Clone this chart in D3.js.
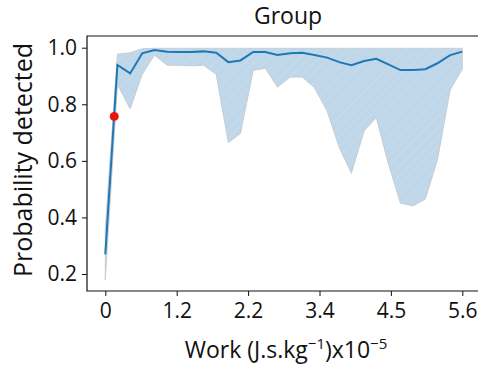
<!DOCTYPE html>
<html>
<head>
<meta charset="utf-8">
<script src="https://cdn.jsdelivr.net/npm/d3@7"></script>
<style>
  html, body { margin: 0; padding: 0; background: #fff; }
  svg { display: block; }
  text { font-family: "Open Sans", "Noto Sans", sans-serif; fill: #111; }
</style>
</head>
<body>
<svg id="chart" width="478" height="366"></svg>
<script>
// Work sampled along the x axis (J.s.kg^-1, x10^-5)
const work = [0.00, 0.19, 0.39, 0.58, 0.77, 0.97, 1.16, 1.35, 1.54, 1.74,
              1.93, 2.12, 2.32, 2.51, 2.70, 2.90, 3.09, 3.28, 3.48, 3.67,
              3.86, 4.06, 4.25, 4.44, 4.63, 4.83, 5.02, 5.21, 5.41, 5.60];
// Mean probability of detection
const meanProb = [0.270, 0.939, 0.909, 0.980, 0.992, 0.986, 0.985, 0.985, 0.987, 0.982,
                  0.949, 0.955, 0.985, 0.985, 0.974, 0.980, 0.982, 0.974, 0.965, 0.949,
                  0.938, 0.953, 0.961, 0.941, 0.921, 0.921, 0.924, 0.945, 0.974, 0.986];
// Lower and upper bounds of the shaded range
const lowerProb = [0.180, 0.870, 0.784, 0.906, 0.974, 0.938, 0.938, 0.936, 0.938, 0.906,
                   0.664, 0.697, 0.920, 0.927, 0.861, 0.896, 0.896, 0.859, 0.776, 0.647,
                   0.556, 0.706, 0.753, 0.590, 0.450, 0.441, 0.465, 0.603, 0.851, 0.924];
const upperProb = [0.360, 0.977, 0.982, 0.996, 0.998, 0.998, 0.998, 0.998, 0.998, 0.998,
                   0.998, 0.998, 0.998, 0.998, 0.998, 0.998, 0.998, 0.998, 0.998, 0.998,
                   0.998, 0.998, 0.998, 0.998, 0.998, 0.998, 0.998, 0.998, 0.998, 0.998];
// Highlighted observation
const markerWork = [0.14];
const markerProb = [0.757];
// Axis ticks
const xTickValues = [0, 1.12, 2.24, 3.36, 4.48, 5.6];
const xTickLabels = ["0", "1.2", "2.2", "3.4", "4.5", "5.6"];
const yTickValues = [0.2, 0.4, 0.6, 0.8, 1.0];

const svg = d3.select("#chart");
const margin = { left: 87, top: 36, right: 487, bottom: 291 };

const x = d3.scaleLinear().domain([0, 5.6]).range([105.3, 462.3]);
const y = d3.scaleLinear().domain([0.2, 1.0]).range([274, 47.7]);

const rows = work.map((w, i) => ({ w, m: meanProb[i], lo: lowerProb[i], hi: upperProb[i] }));

// hatch pattern for the range band
const defs = svg.append("defs");
const pat = defs.append("pattern")
  .attr("id", "hatch")
  .attr("patternUnits", "userSpaceOnUse")
  .attr("width", 7).attr("height", 7)
  .attr("patternTransform", "rotate(45)");
pat.append("rect").attr("width", 7).attr("height", 7).attr("fill", "rgb(190,215,234)");
pat.append("line").attr("x1", 0).attr("y1", 0).attr("x2", 0).attr("y2", 7)
  .attr("stroke", "rgb(214,220,228)").attr("stroke-width", 1.2);

const area = d3.area()
  .x(d => x(d.w))
  .y0(d => y(d.lo))
  .y1(d => y(d.hi));

svg.append("path")
  .datum(rows)
  .attr("d", area)
  .attr("fill", "url(#hatch)")
  .attr("stroke", "rgb(200,205,210)")
  .attr("stroke-width", 1);

const line = d3.line().x(d => x(d.w)).y(d => y(d.m));
svg.append("path")
  .datum(rows)
  .attr("d", line)
  .attr("fill", "none")
  .attr("stroke", "#1f77b4")
  .attr("stroke-width", 2);

svg.selectAll("circle.marker")
  .data(markerWork.map((w, i) => ({ w, p: markerProb[i] })))
  .join("circle")
  .attr("class", "marker")
  .attr("cx", d => x(d.w))
  .attr("cy", d => y(d.p))
  .attr("r", 4.5)
  .attr("fill", "#e8150a");

// axes frame
svg.append("path")
  .attr("d", `M${margin.right},${margin.top}H${margin.left}V${margin.bottom}H${margin.right}`)
  .attr("fill", "none")
  .attr("stroke", "#111")
  .attr("stroke-width", 1.2);

const xAxis = d3.axisBottom(x)
  .tickValues(xTickValues)
  .tickFormat((d, i) => xTickLabels[i])
  .tickSize(5)
  .tickPadding(7);
const gx = svg.append("g").attr("transform", `translate(0,${margin.bottom})`).call(xAxis);
gx.select(".domain").remove();
gx.selectAll("line").attr("stroke", "#111").attr("stroke-width", 1);
gx.selectAll("text").attr("font-size", 21).style("font-family", "'Open Sans', sans-serif").attr("fill", "#111");

const yAxis = d3.axisLeft(y)
  .tickValues(yTickValues)
  .tickFormat(d3.format(".1f"))
  .tickSize(5)
  .tickPadding(5);
const gy = svg.append("g").attr("transform", `translate(${margin.left},0)`).call(yAxis);
gy.select(".domain").remove();
gy.selectAll("line").attr("stroke", "#111").attr("stroke-width", 1);
gy.selectAll("text").attr("font-size", 21).style("font-family", "'Open Sans', sans-serif").attr("fill", "#111");

// title
svg.append("text")
  .attr("x", 288).attr("y", 24)
  .attr("text-anchor", "middle")
  .attr("font-size", 23)
  .text("Group");

// y label
svg.append("text")
  .attr("transform", "translate(32,160) rotate(-90)")
  .attr("text-anchor", "middle")
  .attr("font-size", 25)
  .text("Probability detected");

// x label with superscripts
const xl = svg.append("text")
  .attr("x", 286).attr("y", 358)
  .attr("text-anchor", "middle")
  .attr("font-size", 23);
xl.append("tspan").text("Work (J.s.kg");
xl.append("tspan").attr("dy", -9).attr("font-size", 15).text("\u22121");
xl.append("tspan").attr("dy", 9).text(")x10");
xl.append("tspan").attr("dy", -9).attr("font-size", 15).text("\u22125");
</script>
</body>
</html>
